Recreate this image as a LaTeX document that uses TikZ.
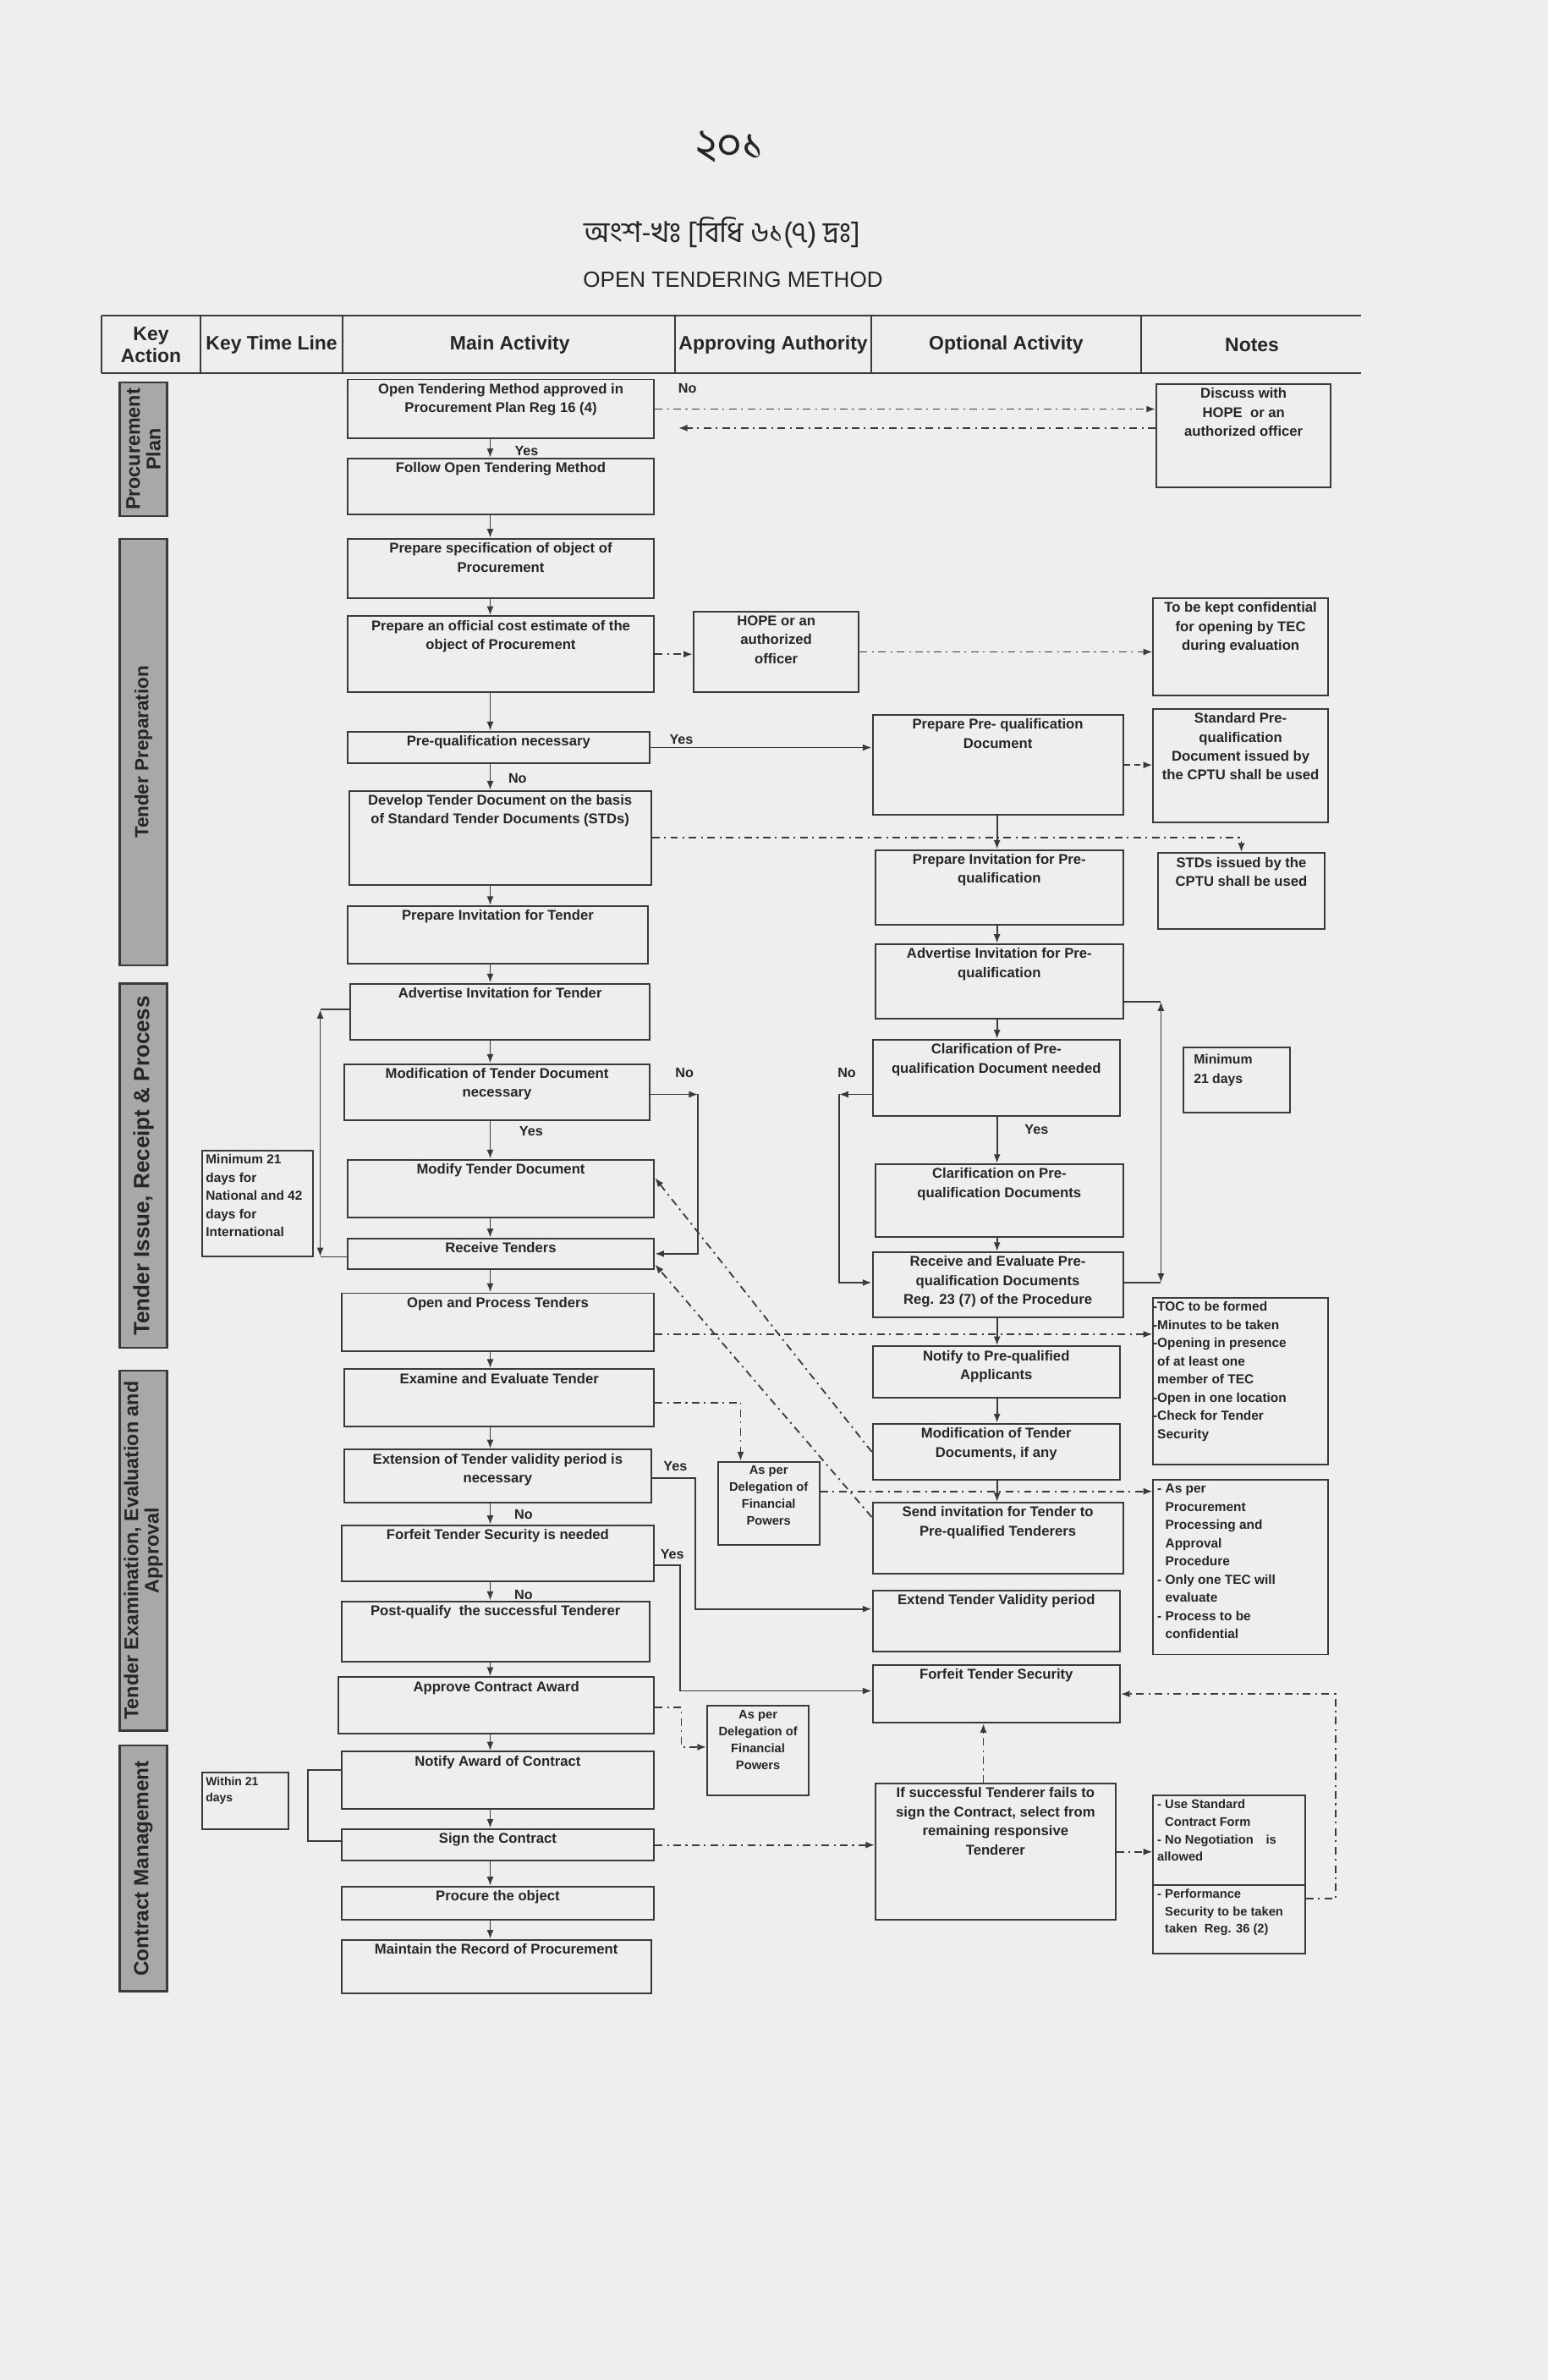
\documentclass[tikz,border=0pt]{standalone}
\usepackage{fontspec}
\setmainfont{Liberation Sans}
\newfontfamily\bnfont[Script=Bengali]{Hind Siliguri}
\usetikzlibrary{fit,arrows.meta}
\definecolor{bg}{RGB}{238,238,236}
\definecolor{lc}{RGB}{58,58,58}
\definecolor{tc}{RGB}{38,38,38}
\definecolor{barfill}{RGB}{168,168,168}
\tikzset{
 bx/.style={draw=lc, line width=1.1pt, inner sep=0pt, rectangle},
 tx/.style={font=\fontsize{9.3}{12.5}\selectfont\bfseries, text=tc, align=center, anchor=north, inner sep=3pt},
 txs/.style={font=\fontsize{8.2}{11.2}\selectfont\bfseries, text=tc, align=center, anchor=north, inner sep=3pt},
 txl/.style={font=\fontsize{8.6}{12}\selectfont\bfseries, text=tc, align=left, anchor=north west, inner sep=3pt},
 bar/.style={draw=lc, fill=barfill, line width=1.5pt, inner sep=0pt},
 bartx/.style={rotate=90, font=\fontsize{14.5}{15}\selectfont\bfseries, text=black!85, align=center, anchor=center},
 tip/.style={-{Latex[length=6pt,width=4.5pt]}},
 ln/.style={draw=lc, line width=1pt},
 ar/.style={ln, tip},
 dd/.style={ln, dash pattern=on 5pt off 3pt on 1.2pt off 3pt},
 dda/.style={dd, tip},
 yn/.style={font=\fontsize{9}{10}\selectfont\bfseries, text=tc, inner sep=0pt},
 hd/.style={font=\fontsize{12.8}{14.5}\selectfont\bfseries, text=tc, align=center},
 hl/.style={draw=lc, line width=1.1pt},
}
\newcommand\boxnode[5][tx]{\node[bx, fit={#3 #4}, label={[#1]north:{#5}}] (#2) {};}
\newcommand\boxnodel[5][txl]{\node[bx, fit={#3 #4}, label={[#1]north west:{#5}}] (#2) {};}
\newcommand\barnode[5][]{\node[bar, fit={#3 #4}, label={[bartx,#1]center:{#5}}] (#2) {};}
\begin{document}
\begin{tikzpicture}[x=1pt,y=-1pt]
\path[use as bounding box, fill=bg] (0,0) rectangle (1020,1568);

% titles
\node[font=\bnfont\fontsize{29}{31}\selectfont, text=tc] (pg) at (481,97) {২০১};
\node[font=\bnfont\fontsize{19}{22}\selectfont, text=tc] (sub) at (476,153) {অংশ-খঃ [বিধি ৬১(৭) দ্রঃ]};
\node[font=\fontsize{14.5}{16}\selectfont, text=tc] (ttl) at (483,184) {OPEN TENDERING METHOD};

% header table
\draw[hl] (67,208) -- (897,208);
\draw[hl] (67,246) -- (897,246);
\foreach \xx in {67,132,226,445,574,752} \draw[hl] (\xx,208) -- (\xx,246);
\node[hd] (h1) at (99.5,227) {Key\\Action};
\node[hd] (h2) at (179,227) {Key Time Line};
\node[hd] (h3) at (336,227) {Main Activity};
\node[hd] (h4) at (509.5,227) {Approving Authority};
\node[hd] (h5) at (663,227) {Optional Activity};
\node[hd] (h6) at (825,227) {Notes};

% key action bars
\barnode[font=\fontsize{13}{13.5}\selectfont\bfseries]{k1}{(79,252)}{(110,340)}{Procurement\\Plan}
\barnode[font=\fontsize{12.5}{13}\selectfont\bfseries]{k2}{(79,355)}{(110,636)}{Tender Preparation}
\barnode{k3}{(79,648)}{(110,888)}{Tender Issue, Receipt \& Process}
\barnode[font=\fontsize{13}{13.5}\selectfont\bfseries]{k4}{(79,903)}{(110,1140)}{Tender Examination, Evaluation and\\Approval}
\barnode[font=\fontsize{13.5}{14}\selectfont\bfseries]{k5}{(79,1150)}{(110,1312)}{Contract Management}

% key time line
\boxnodel{tl1}{(133,758)}{(206,828)}{Minimum 21\\days for\\National and 42\\days for\\International}
\boxnodel[txl,font=\fontsize{7.8}{10.5}\selectfont\bfseries]{tl2}{(133,1168)}{(190,1205)}{Within 21\\days}

% main activity
\boxnode{b1}{(229,250)}{(431,289)}{Open Tendering Method approved in\\Procurement Plan Reg 16 (4)}
\boxnode{b2}{(229,302)}{(431,339)}{Follow Open Tendering Method}
\boxnode{b3}{(229,355)}{(431,394)}{Prepare specification of object of\\Procurement}
\boxnode{b4}{(229,406)}{(431,456)}{Prepare an official cost estimate of the\\object of Procurement}
\boxnode{b5}{(229,482)}{(428,503)}{Pre-qualification necessary}
\boxnode{b6}{(230,521)}{(429,583)}{Develop Tender Document on the basis\\of Standard Tender Documents (STDs)}
\boxnode{b7}{(229,597)}{(427,635)}{Prepare Invitation for Tender}
\boxnode{b8}{(231,648)}{(428,685)}{Advertise Invitation for Tender}
\boxnode{b9}{(227,701)}{(428,738)}{Modification of Tender Document\\necessary}
\boxnode{b10}{(229,764)}{(431,802)}{Modify Tender Document}
\boxnode{b11}{(229,816)}{(431,836)}{Receive Tenders}
\boxnode{b12}{(225,852)}{(431,890)}{Open and Process Tenders}
\boxnode{b13}{(227,902)}{(431,940)}{Examine and Evaluate Tender}
\boxnode{b14}{(227,955)}{(429,990)}{Extension of Tender validity period is\\necessary}
\boxnode{b15}{(225,1005)}{(431,1042)}{Forfeit Tender Security is needed}
\boxnode{b16}{(225,1055)}{(428,1095)}{Post-qualify\ \ the successful Tenderer}
\boxnode{b17}{(223,1105)}{(431,1142)}{Approve Contract Award}
\boxnode{b18}{(225,1154)}{(431,1192)}{Notify Award of Contract}
\boxnode{b19}{(225,1205)}{(431,1226)}{Sign the Contract}
\boxnode{b20}{(225,1243)}{(431,1265)}{Procure the object}
\boxnode{b21}{(225,1278)}{(429,1313)}{Maintain the Record of Procurement}

% approving authority
\boxnode{hope}{(457,403)}{(566,456)}{HOPE or an\\authorized\\officer}
\boxnode[txs]{del1}{(473,963)}{(540,1018)}{As per\\Delegation of\\Financial\\Powers}
\boxnode[txs]{del2}{(466,1124)}{(533,1183)}{As per\\Delegation of\\Financial\\Powers}

% optional activity
\boxnode{pq1}{(575,471)}{(740,537)}{Prepare Pre- qualification\\Document}
\boxnode{pq2}{(577,560)}{(740,609)}{Prepare Invitation for Pre-\\qualification}
\boxnode{pq3}{(577,622)}{(740,671)}{Advertise Invitation for Pre-\\qualification}
\boxnode{clar1}{(575,685)}{(738,735)}{Clarification of Pre-\\qualification Document needed}
\boxnode{clar2}{(577,767)}{(740,815)}{Clarification on Pre-\\qualification Documents}
\boxnode{pqre}{(575,825)}{(740,868)}{Receive and Evaluate Pre-\\qualification Documents\\Reg. 23 (7) of the Procedure}
\boxnode{notify}{(575,887)}{(738,921)}{Notify to Pre-qualified\\Applicants}
\boxnode{modtd}{(575,938)}{(738,975)}{Modification of Tender\\Documents, if any}
\boxnode{sendinv}{(575,990)}{(740,1037)}{Send invitation for Tender to\\Pre-qualified Tenderers}
\boxnode{extv}{(575,1048)}{(738,1088)}{Extend Tender Validity period}
\boxnode{fts}{(575,1097)}{(738,1135)}{Forfeit Tender Security}
\boxnode{succ}{(577,1175)}{(735,1265)}{If successful Tenderer fails to\\sign the Contract, select from\\remaining responsive\\Tenderer}

% notes
\boxnode{n1}{(762,253)}{(877,321)}{Discuss with\\HOPE\ \ or an\\authorized officer}
\boxnode{n2}{(760,394)}{(875,458)}{To be kept confidential\\for opening by TEC\\during evaluation}
\boxnode{n3}{(760,467)}{(875,542)}{Standard Pre-\\qualification\\Document issued by\\the CPTU shall be used}
\boxnode{n4}{(763,562)}{(873,612)}{STDs issued by the\\CPTU shall be used}
\boxnodel[txl,font=\fontsize{8.8}{12.5}\selectfont\bfseries, xshift=4pt, yshift=-2pt]{n5}{(780,690)}{(850,733)}{Minimum\\21 days}
\boxnodel{toc}{(760,855)}{(875,965)}{\llap{-}TOC to be formed\\\llap{-}Minutes to be taken\\\llap{-}Opening in presence\\of at least one\\member of TEC\\\llap{-}Open in one location\\\llap{-}Check for Tender\\Security}
\boxnodel{proc}{(760,975)}{(875,1090)}{- As per\\\hphantom{- }Procurement\\\hphantom{- }Processing and\\\hphantom{- }Approval\\\hphantom{- }Procedure\\- Only one TEC will\\\hphantom{- }evaluate\\- Process to be\\\hphantom{- }confidential}
\boxnodel[txl,font=\fontsize{8.2}{11.5}\selectfont\bfseries]{usc}{(760,1183)}{(860,1242)}{- Use Standard\\\hphantom{- }Contract Form\\- No Negotiation\quad is\\allowed}
\boxnodel[txl,font=\fontsize{8.2}{11.5}\selectfont\bfseries]{perf}{(760,1242)}{(860,1287)}{- Performance\\\hphantom{- }Security to be taken\\\hphantom{- }taken\ \ Reg. 36 (2)}

% helper coordinates
\coordinate (mx) at (323,0);
\coordinate (ox) at (657,0);

% main chain
\foreach \a/\b in {b1/b2,b2/b3,b3/b4,b4/b5,b5/b6,b6/b7,b7/b8,b8/b9,b9/b10,b10/b11,b11/b12,b12/b13,b13/b14,b14/b15,b15/b16,b16/b17,b17/b18,b18/b19,b19/b20,b20/b21}
  \draw[ar] (\a.south -| mx) -- (\b.north -| mx);
% optional chain
\foreach \a/\b in {pq1/pq2,pq2/pq3,pq3/clar1,clar1/clar2,clar2/pqre,pqre/notify,notify/modtd,modtd/sendinv}
  \draw[ar] (\a.south -| ox) -- (\b.north -| ox);

% yes / no labels
\node[yn] (l1) at (347,297) {Yes};
\node[yn] (l2) at (341,513) {No};
\node[yn] (l3) at (453,256) {No};
\node[yn] (l4) at (449,487) {Yes};
\node[yn] (l5) at (451,707) {No};
\node[yn] (l6) at (350,745) {Yes};
\node[yn] (l7) at (558,707) {No};
\node[yn] (l8) at (683,744) {Yes};
\node[yn] (l9) at (445,966) {Yes};
\node[yn] (l10) at (345,998) {No};
\node[yn] (l11) at (443,1024) {Yes};
\node[yn] (l12) at (345,1051) {No};

% procurement plan loop
\draw[dda] (b1.east) -- (b1.east -| n1.west);
\coordinate (r2) at (447,282);
\draw[dda] (n1.west |- r2) -- (r2);

% cost estimate
\draw[dda] (b4.east) -- (b4.east -| hope.west);
\draw[dda] (hope.east) -- (hope.east -| n2.west);

% prequalification
\draw[ar] (b5.east) -- (b5.east -| pq1.west);
\draw[ln, tip, dash pattern=on 4pt off 3pt] (pq1.east) -- (pq1.east -| n3.west);
\draw[dda] (b6.east) -| (n4.north);

% minimum 21 days bracket (optional)
\coordinate (c1) at (765,660);
\coordinate (c2) at (765,845);
\draw[ln] (pq3.east |- c1) -- (c1);
\draw[ln, {Latex[length=6pt,width=4.5pt]}-{Latex[length=6pt,width=4.5pt]}] (c1) -- (c2);
\draw[ln] (c2) -- (pqre.east |- c2);

% clarification No loop
\coordinate (c3) at (553,721);
\coordinate (c4) at (553,845);
\draw[ar] (clar1.west |- c3) -- (c3);
\draw[ar] (c3) -- (c4) -- (pqre.west |- c4);

% advertise / receive bracket (main)
\coordinate (c5) at (211,665);
\coordinate (c6) at (211,828);
\draw[ln] (b8.west |- c5) -- (c5);
\draw[ln, {Latex[length=6pt,width=4.5pt]}-{Latex[length=6pt,width=4.5pt]}] (c5) -- (c6);
\draw[ln] (c6) -- (b11.west |- c6);

% modification No
\coordinate (c7) at (460,721);
\coordinate (c8) at (460,826);
\draw[ar] (b9.east |- c7) -- (c7);
\draw[ar] (c7) -- (c8) -- (b11.east |- c8);

% diagonals
\draw[dda] (modtd.west) -- ([yshift=7pt]b10.east);
\draw[dda] ([yshift=14pt]sendinv.west) -- ([yshift=-7pt]b11.east);

% open and process
\draw[dda] ([yshift=-8pt]b12.east) -- ([yshift=-8pt]b12.east -| toc.west);

% examine and evaluate
\coordinate (c9) at (488,924);
\draw[dda] (b13.east |- c9) -- (c9) -- (c9 |- del1.north);
\draw[dda] ([yshift=8pt]del1.east) -- ([yshift=8pt]del1.east -| proc.west);

% extension / forfeit
\coordinate (c10) at (458,974);
\coordinate (c11) at (458,1060);
\draw[ar] (b14.east |- c10) -- (c10) -- (c11) -- (extv.west |- c11);
\coordinate (c12) at (448,1031);
\coordinate (c13) at (448,1114);
\draw[ar] (b15.east |- c12) -- (c12) -- (c13) -- (fts.west |- c13);

% approve contract award
\coordinate (c14) at (449,1125);
\coordinate (c15) at (449,1151);
\draw[dda] (b17.east |- c14) -- (c14) -- (c15) -- (del2.west |- c15);

% sign contract
\draw[dda] (b19.east) -- (b19.east -| succ.west);
\draw[dda] (succ.east) -- (succ.east -| usc.west);
\coordinate (c16) at (648,0);
\draw[dda] (succ.north -| c16) -- (fts.south -| c16);
\coordinate (c17) at (880,1251);
\coordinate (c18) at (880,1116);
\draw[dda] (perf.east |- c17) -- (c17) -- (c18) -- (fts.east |- c18);

% notify / sign bracket
\coordinate (c19) at (203,1166);
\coordinate (c20) at (203,1213);
\draw[ln] (b18.west |- c19) -- (c19) -- (c20) -- (b19.west |- c20);
\end{tikzpicture}
\end{document}
